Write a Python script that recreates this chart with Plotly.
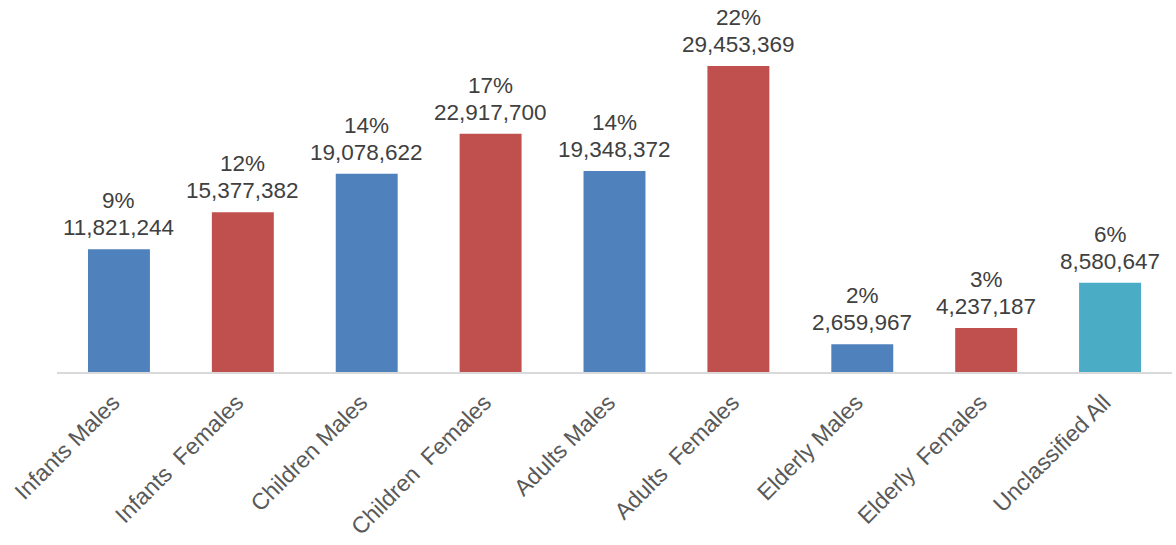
import plotly.graph_objects as go

categories = [
    "Infants Males", "Infants\u00a0 Females", "Children Males", "Children\u00a0 Females",
    "Adults Males", "Adults\u00a0 Females", "Elderly Males", "Elderly\u00a0 Females",
    "Unclassified All",
]
counts = [11821244, 15377382, 19078622, 22917700, 19348372, 29453369, 2659967, 4237187, 8580647]
shares = ["9%", "12%", "14%", "17%", "14%", "22%", "2%", "3%", "6%"]
bar_colors = ["#4F81BD", "#C0504D", "#4F81BD", "#C0504D", "#4F81BD", "#C0504D",
              "#4F81BD", "#C0504D", "#4BACC6"]

FONT = "Liberation Sans, Arial, sans-serif"
label_font = dict(family=FONT, size=22.5, color="#404040")

fig = go.Figure(
    go.Bar(
        x=categories,
        y=counts,
        marker=dict(color=bar_colors, line=dict(width=0)),
        hoverinfo="x+y",
    )
)

# Two-line value labels above each bar: share on top, count below it
for cat, val, share in zip(categories, counts, shares):
    fig.add_annotation(x=cat, y=val, text=f"{val:,}", showarrow=False,
                       xanchor="center", yanchor="bottom", yshift=7, font=label_font)
    fig.add_annotation(x=cat, y=val, text=share, showarrow=False,
                       xanchor="center", yanchor="bottom", yshift=34, font=label_font)

fig.update_layout(
    width=1176,
    height=545,
    margin=dict(l=57, r=4, t=0, b=173),
    paper_bgcolor="white",
    plot_bgcolor="white",
    bargap=0.5,
    showlegend=False,
    font=dict(family=FONT, color="#404040"),
    xaxis=dict(
        tickangle=-45,
        tickfont=dict(size=23, color="#595959"),
        ticklabelstandoff=6,
        ticklabelshift=-6,
        showline=True,
        linecolor="#D9D9D9",
        linewidth=2,
        ticks="",
        showgrid=False,
    ),
    yaxis=dict(
        range=[0, 35800000],
        visible=False,
        showgrid=False,
        zeroline=False,
    ),
)

fig.write_html("out.html")
